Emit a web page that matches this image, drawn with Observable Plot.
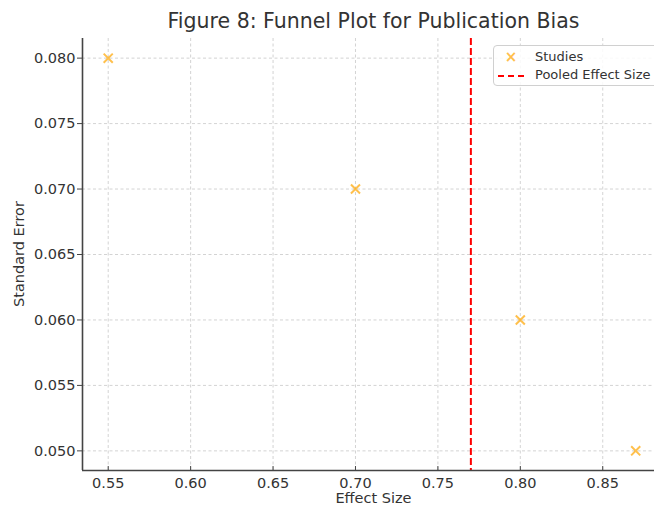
<!DOCTYPE html>
<html>
<head>
<meta charset="utf-8">
<script src="https://cdn.jsdelivr.net/npm/d3@7"></script>
<script src="https://cdn.jsdelivr.net/npm/@observablehq/plot@0.6"></script>
<style>
  html, body { margin: 0; padding: 0; background: #fff; overflow: hidden; }
  #wrap { position: relative; width: 654px; height: 507px; overflow: hidden; font-family: "DejaVu Sans", sans-serif; color: #333; }
  #title { position: absolute; left: 82px; width: 583px; top: 9px; text-align: center; font-size: 20.5px; line-height: 24px; white-space: nowrap; }
  #xlabel { position: absolute; left: 82px; width: 583px; top: 490px; text-align: center; font-size: 14.5px; line-height: 17px; }
  #ylabel { position: absolute; left: 18.5px; top: 254px; transform: translate(-50%, -50%) rotate(-90deg); font-size: 14.5px; line-height: 17px; white-space: nowrap; }
  #legend { position: absolute; left: 493px; top: 45px; width: 175px; height: 41px; background: rgba(255,255,255,0.85); border: 1px solid #d0d0d0; border-radius: 4px; font-size: 13px; box-sizing: border-box; }
  .row { position: absolute; left: 0; height: 18px; line-height: 18px; white-space: nowrap; }
  .sym { position: absolute; left: 4px; width: 26px; text-align: center; }
  .lab { position: absolute; left: 41px; }
</style>
</head>
<body>
<div id="wrap">
  <div id="chart"></div>
  <div id="title"></div>
  <div id="xlabel"></div>
  <div id="ylabel"></div>
  <div id="legend"></div>
</div>
<script>
// Data
const effectSizes = [0.55, 0.70, 0.80, 0.87];
const standardErrors = [0.080, 0.070, 0.060, 0.050];
const pooledEffectSize = [0.77];
const xTicks = [0.55, 0.60, 0.65, 0.70, 0.75, 0.80, 0.85];
const yTicks = [0.050, 0.055, 0.060, 0.065, 0.070, 0.075, 0.080];
const xDomain = [0.5344, 0.8814];
const yDomain = [0.0485, 0.0815];
const titleText = "Figure 8: Funnel Plot for Publication Bias";
const xLabelText = "Effect Size";
const yLabelText = "Standard Error";
const legendLabels = ["Studies", "Pooled Effect Size"];

const studies = effectSizes.map((e, i) => ({effect: e, se: standardErrors[i]}));
const studyColor = "#FFA500";
const pooledColor = "red";
const gridStyle = {stroke: "#b0b0b0", strokeOpacity: 0.7, strokeWidth: 0.8, strokeDasharray: "3,2.5"};

const chart = Plot.plot({
  width: 654,
  height: 507,
  marginLeft: 82,
  marginRight: 0,
  marginTop: 38,
  marginBottom: 37,
  style: {fontFamily: "DejaVu Sans, sans-serif", fontSize: "14.5px", color: "#333", background: "#fff", overflow: "visible"},
  x: {domain: xDomain},
  y: {domain: yDomain},
  marks: [
    Plot.ruleX(xTicks, gridStyle),
    Plot.ruleY(yTicks, gridStyle),
    Plot.axisX(xTicks, {tickFormat: d3.format(".2f"), tickSize: -4, tickPadding: 11, label: null, stroke: "#444", fill: "#333"}),
    Plot.axisY(yTicks, {tickFormat: d3.format(".3f"), tickSize: 5, tickPadding: 2, label: null, stroke: "#444", fill: "#333"}),
    Plot.ruleX(pooledEffectSize, {stroke: pooledColor, strokeWidth: 2, strokeDasharray: "7,3"}),
    Plot.dot(studies, {x: "effect", y: "se", symbol: "times", r: 4.2, stroke: studyColor, strokeOpacity: 0.7, strokeWidth: 2}),
    Plot.ruleX([xDomain[0]], {stroke: "#444", strokeWidth: 1.6}),
    Plot.ruleY([yDomain[0]], {stroke: "#444", strokeWidth: 1.6})
  ]
});
document.getElementById("chart").appendChild(chart);

document.getElementById("title").textContent = titleText;
document.getElementById("xlabel").textContent = xLabelText;
document.getElementById("ylabel").textContent = yLabelText;

const legend = document.getElementById("legend");
legend.innerHTML =
  `<div class="row" style="top:2px"><span class="sym" style="color:${studyColor};opacity:0.7;font-weight:bold;font-size:15px">\u00d7</span><span class="lab"></span></div>` +
  `<div class="row" style="top:20px"><span class="sym"><span style="display:inline-block;width:26px;height:0;border-top:2px dashed ${pooledColor};vertical-align:middle"></span></span><span class="lab"></span></div>`;
const labs = legend.querySelectorAll(".lab");
labs[0].textContent = legendLabels[0];
labs[1].textContent = legendLabels[1];
</script>
</body>
</html>
